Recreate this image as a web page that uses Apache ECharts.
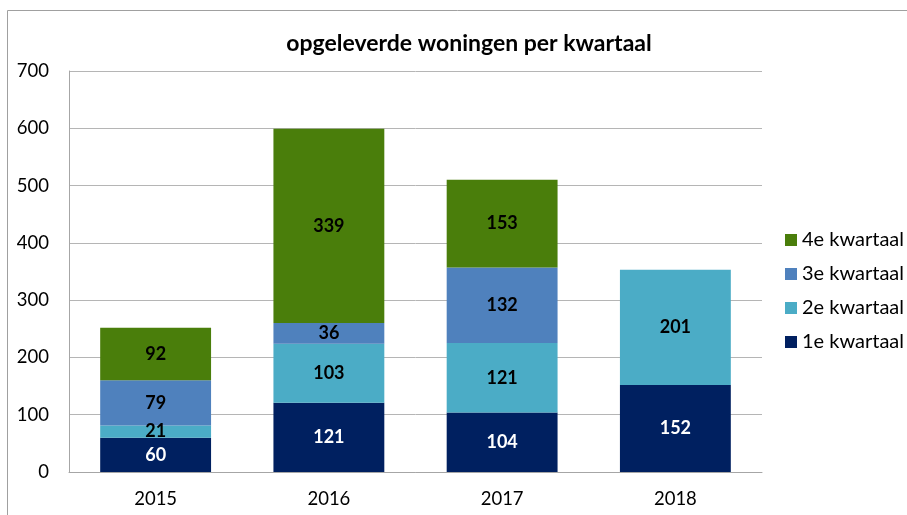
<!DOCTYPE html>
<html>
<head>
<meta charset="utf-8">
<script src="https://cdn.jsdelivr.net/npm/echarts@6/dist/echarts.min.js"></script>
<style>
  html, body { margin: 0; padding: 0; background: #fff; }
  #chart { width: 907px; height: 515px; }
</style>
</head>
<body>
<div id="chart"></div>
<script>
var years = ["2015", "2016", "2017", "2018"];
var q1 = [60, 121, 104, 152];
var q2 = [21, 103, 121, 201];
var q3 = [79, 36, 132, null];
var q4 = [92, 339, 153, null];
var yTicks = [0, 100, 200, 300, 400, 500, 600, 700];

var chart = echarts.init(document.getElementById("chart"));
var font = "Lato, 'Open Sans', sans-serif";

function serie(name, data, color, labelColor) {
  return {
    name: name,
    type: "bar",
    stack: "totaal",
    barWidth: "64%",
    data: data,
    itemStyle: { color: color },
    label: {
      show: true,
      position: "inside",
      color: labelColor,
      fontWeight: "bold",
      fontSize: 18,
      fontFamily: font
    }
  };
}

var option = {
  animation: false,
  title: {
    text: "opgeleverde woningen per kwartaal",
    left: 464,
    textAlign: "center",
    top: 27,
    textStyle: { fontSize: 23, fontWeight: "bold", color: "#000", fontFamily: font }
  },
  graphic: [{
    type: "rect",
    shape: { x: 7.5, y: 10.5, width: 1000, height: 1000 },
    style: { fill: null, stroke: "#a0a0a0", lineWidth: 1 },
    silent: true
  }],
  legend: {
    data: ["4e kwartaal", "3e kwartaal", "2e kwartaal", "1e kwartaal"],
    orient: "vertical",
    left: 780,
    top: 225,
    itemWidth: 12,
    itemHeight: 12,
    itemGap: 14,
    icon: "rect",
    textStyle: { fontSize: 20, color: "#000", fontFamily: font }
  },
  grid: { left: 69, right: 145, top: 71, bottom: 43 },
  xAxis: {
    type: "category",
    data: years,
    axisLine: { show: true, lineStyle: { color: "#a6a6a6" } },
    axisTick: { show: false },
    axisLabel: { fontSize: 18.5, color: "#000", fontFamily: font, margin: 18 }
  },
  yAxis: {
    type: "value",
    min: yTicks[0],
    max: yTicks[yTicks.length - 1],
    interval: 100,
    axisLine: { show: true, lineStyle: { color: "#a6a6a6" } },
    axisTick: { show: false },
    axisLabel: { fontSize: 18.5, color: "#000", fontFamily: font, margin: 20 },
    splitLine: { show: true, lineStyle: { color: "#b5b5b5" } }
  },
  series: [
    serie("1e kwartaal", q1, "#002060", "#fff"),
    serie("2e kwartaal", q2, "#4BACC6", "#000"),
    serie("3e kwartaal", q3, "#4F81BD", "#000"),
    serie("4e kwartaal", q4, "#4A7E0B", "#000")
  ]
};

chart.setOption(option);
</script>
</body>
</html>
